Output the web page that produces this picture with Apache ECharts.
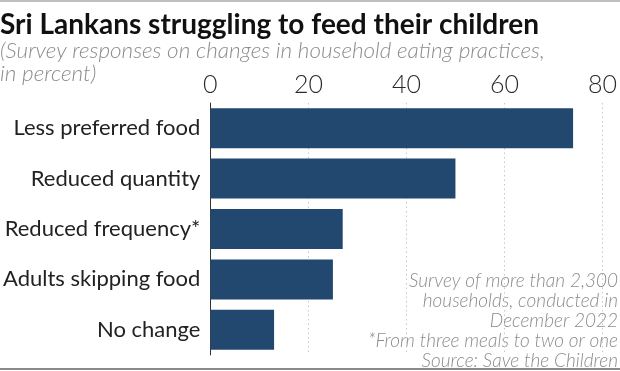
<!DOCTYPE html>
<html>
<head>
<meta charset="utf-8">
<script src="https://cdn.jsdelivr.net/npm/echarts@6/dist/echarts.min.js"></script>
<style>
html,body{margin:0;padding:0;background:#fff;}
#c{width:620px;height:371px;}
</style>
</head>
<body>
<div id="c"></div>
<script>
const categories = ['Less preferred food', 'Reduced quantity', 'Reduced frequency*', 'Adults skipping food', 'No change'];
const values = [74, 50, 27, 25, 13];
const axisMin = 0, axisMax = 80, axisStep = 20;
const titleText = 'Sri Lankans struggling to feed their children';
const subtitleLines = ['(Survey responses on changes in household eating practices,', 'in percent)'];
const noteLines = ['Survey of more than 2,300', 'households, conducted in', 'December 2022', '*From three meals to two or one', 'Source: Save the Children'];

const FONT = 'Lato, "Noto Sans", sans-serif';
const graphics = [
  {type: 'line', shape: {x1: 0, y1: 1, x2: 620, y2: 1}, style: {stroke: '#aaa', lineWidth: 1.5}},
  {type: 'line', shape: {x1: 0, y1: 369, x2: 620, y2: 369}, style: {stroke: '#8a8a8a', lineWidth: 2}},
  {type: 'text', x: 0, y: 25, style: {text: titleText, font: 'bold 28px ' + FONT, fill: '#111', textVerticalAlign: 'middle', verticalAlign: 'middle'}}
];
subtitleLines.forEach((t, i) => graphics.push({
  type: 'text', x: 0, y: 51 + i * 22.5,
  style: {text: t, font: 'italic 300 22.5px ' + FONT, fill: '#8c8c8c', verticalAlign: 'middle', textVerticalAlign: 'middle'}
}));
noteLines.forEach((t, i) => graphics.push({
  type: 'text', x: 618, y: 281 + i * 20,
  style: {text: t, font: 'italic 300 19px ' + FONT, fill: '#8c8c8c', align: 'right', textAlign: 'right', verticalAlign: 'middle', textVerticalAlign: 'middle'}
}));

const chart = echarts.init(document.getElementById('c'), null, {renderer: 'canvas'});
chart.setOption({
  animation: false,
  backgroundColor: '#fff',
  textStyle: {fontFamily: FONT},
  grid: {left: 207, right: 13, top: 103, height: 252, containLabel: false},
  xAxis: {
    type: 'value', position: 'top', min: axisMin, max: axisMax, interval: axisStep,
    axisLine: {show: false}, axisTick: {show: false},
    splitLine: {show: true, lineStyle: {color: '#c8c8c8', type: [1.5, 3], width: 1}},
    axisLabel: {fontSize: 25, fontWeight: 300, color: '#2a2a2a', margin: 6, fontFamily: FONT}
  },
  yAxis: {
    type: 'category', data: categories, inverse: true,
    axisLine: {show: true, lineStyle: {color: '#333', width: 1}},
    axisTick: {show: false},
    axisLabel: {fontSize: 22, color: '#222', margin: 10, fontFamily: FONT}
  },
  series: [{
    type: 'bar', data: values, barWidth: 40,
    itemStyle: {color: '#23486f'}
  }],
  graphic: graphics
});
</script>
</body>
</html>
